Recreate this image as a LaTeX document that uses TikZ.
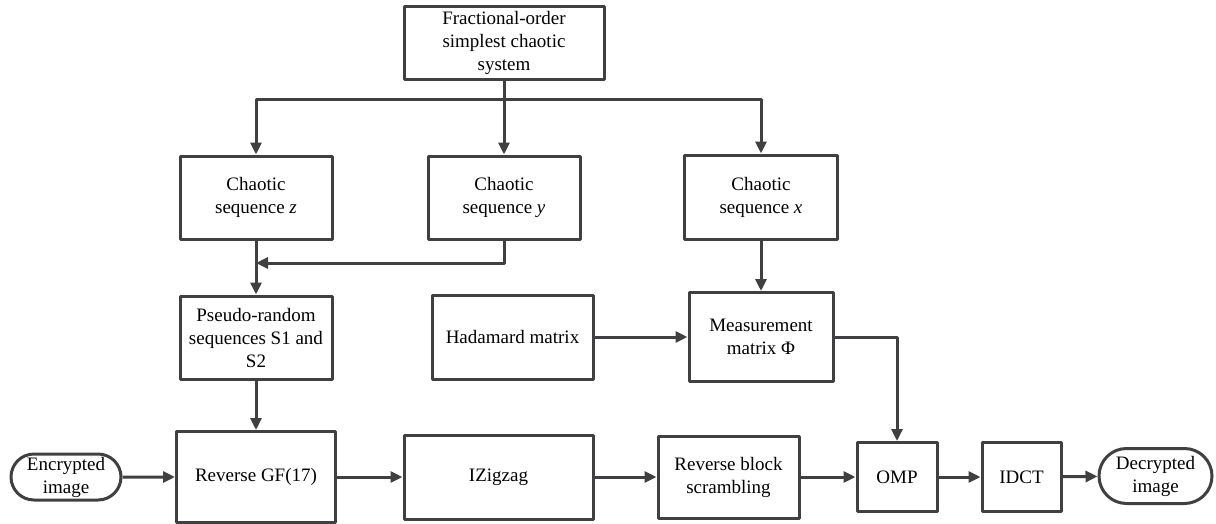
\documentclass[tikz,border=0pt]{standalone}
\usepackage{fontspec}
\setmainfont{Liberation Serif}
\usetikzlibrary{arrows.meta,shapes.misc}
\definecolor{linegray}{RGB}{64,64,66}
\begin{document}
\begin{tikzpicture}[x=1pt, y=-1pt, line width=3pt, line join=round,
	>={Triangle[length=12pt,width=11pt]},
	font=\fontsize{19}{23}\selectfont,
	box/.style={draw=linegray, rectangle, align=center, inner sep=2pt},
	terminal/.style={draw=linegray, rounded rectangle, align=center, inner sep=2pt},
	flow/.style={draw=linegray, ->}]
	\useasboundingbox (0,0) rectangle (1216,523);
	% chaotic system and its three sequences
	\node[box, minimum width=200pt, minimum height=73pt] (sys) at (504,42.5) {Fractional-order\\simplest chaotic\\system};
	\node[box, minimum width=152pt, minimum height=83pt] (chz) at (256,197.5) {Chaotic\\sequence \textit{z}};
	\node[box, minimum width=152pt, minimum height=83pt] (chy) at (504,197.5) {Chaotic\\sequence \textit{y}};
	\node[box, minimum width=153pt, minimum height=84pt] (chx) at (761,197) {Chaotic\\sequence \textit{x}};
	\node[box, minimum width=152pt, minimum height=83pt] (prs) at (256,337.5) {Pseudo-random\\sequences S1 and\\S2};
	\node[box, minimum width=161pt, minimum height=84pt] (had) at (512.5,337) {Hadamard matrix};
	\node[box, minimum width=144pt, minimum height=89pt] (mea) at (761,337) {Measurement\\matrix Φ};
	% decryption chain
	\node[terminal, minimum width=114pt, minimum height=46pt] (enc) at (66,477) {Encrypted\\image};
	\node[box, minimum width=159pt, minimum height=91pt] (rgf) at (256,477) {Reverse GF(17)};
	\node[box, minimum width=189pt, minimum height=84pt] (izz) at (498.5,477) {IZigzag};
	\node[box, minimum width=141pt, minimum height=82pt] (rbs) at (728.5,477) {Reverse block\\scrambling};
	\node[box, minimum width=80pt, minimum height=69pt] (omp) at (897,477) {OMP};
	\node[box, minimum width=79pt, minimum height=69pt] (idct) at (1021.5,477) {IDCT};
	\node[terminal, minimum width=117pt, minimum height=55pt] (dec) at (1155.5,476) {Decrypted\\image};
	\coordinate (fork) at (504,99);
	\coordinate (merge) at (256,263);
	% connectors
	\draw[draw=linegray] (sys) -- (fork);
	\draw[flow] (fork) -| (chz);
	\draw[flow] (fork) -- (chy);
	\draw[flow] (fork) -| (chx);
	\draw[flow] (chy.south) |- (merge);
	\draw[flow] (chz) -- (prs);
	\draw[flow] (chx) -- (mea);
	\draw[flow] (had) -- (mea);
	\draw[flow] (mea.east) -| (omp.north);
	\draw[flow] (prs) -- (rgf);
	\foreach \a/\b in {enc/rgf,rgf/izz,izz/rbs,rbs/omp,omp/idct,idct/dec}{\draw[flow] (\a) -- (\b);}
\end{tikzpicture}
\end{document}
